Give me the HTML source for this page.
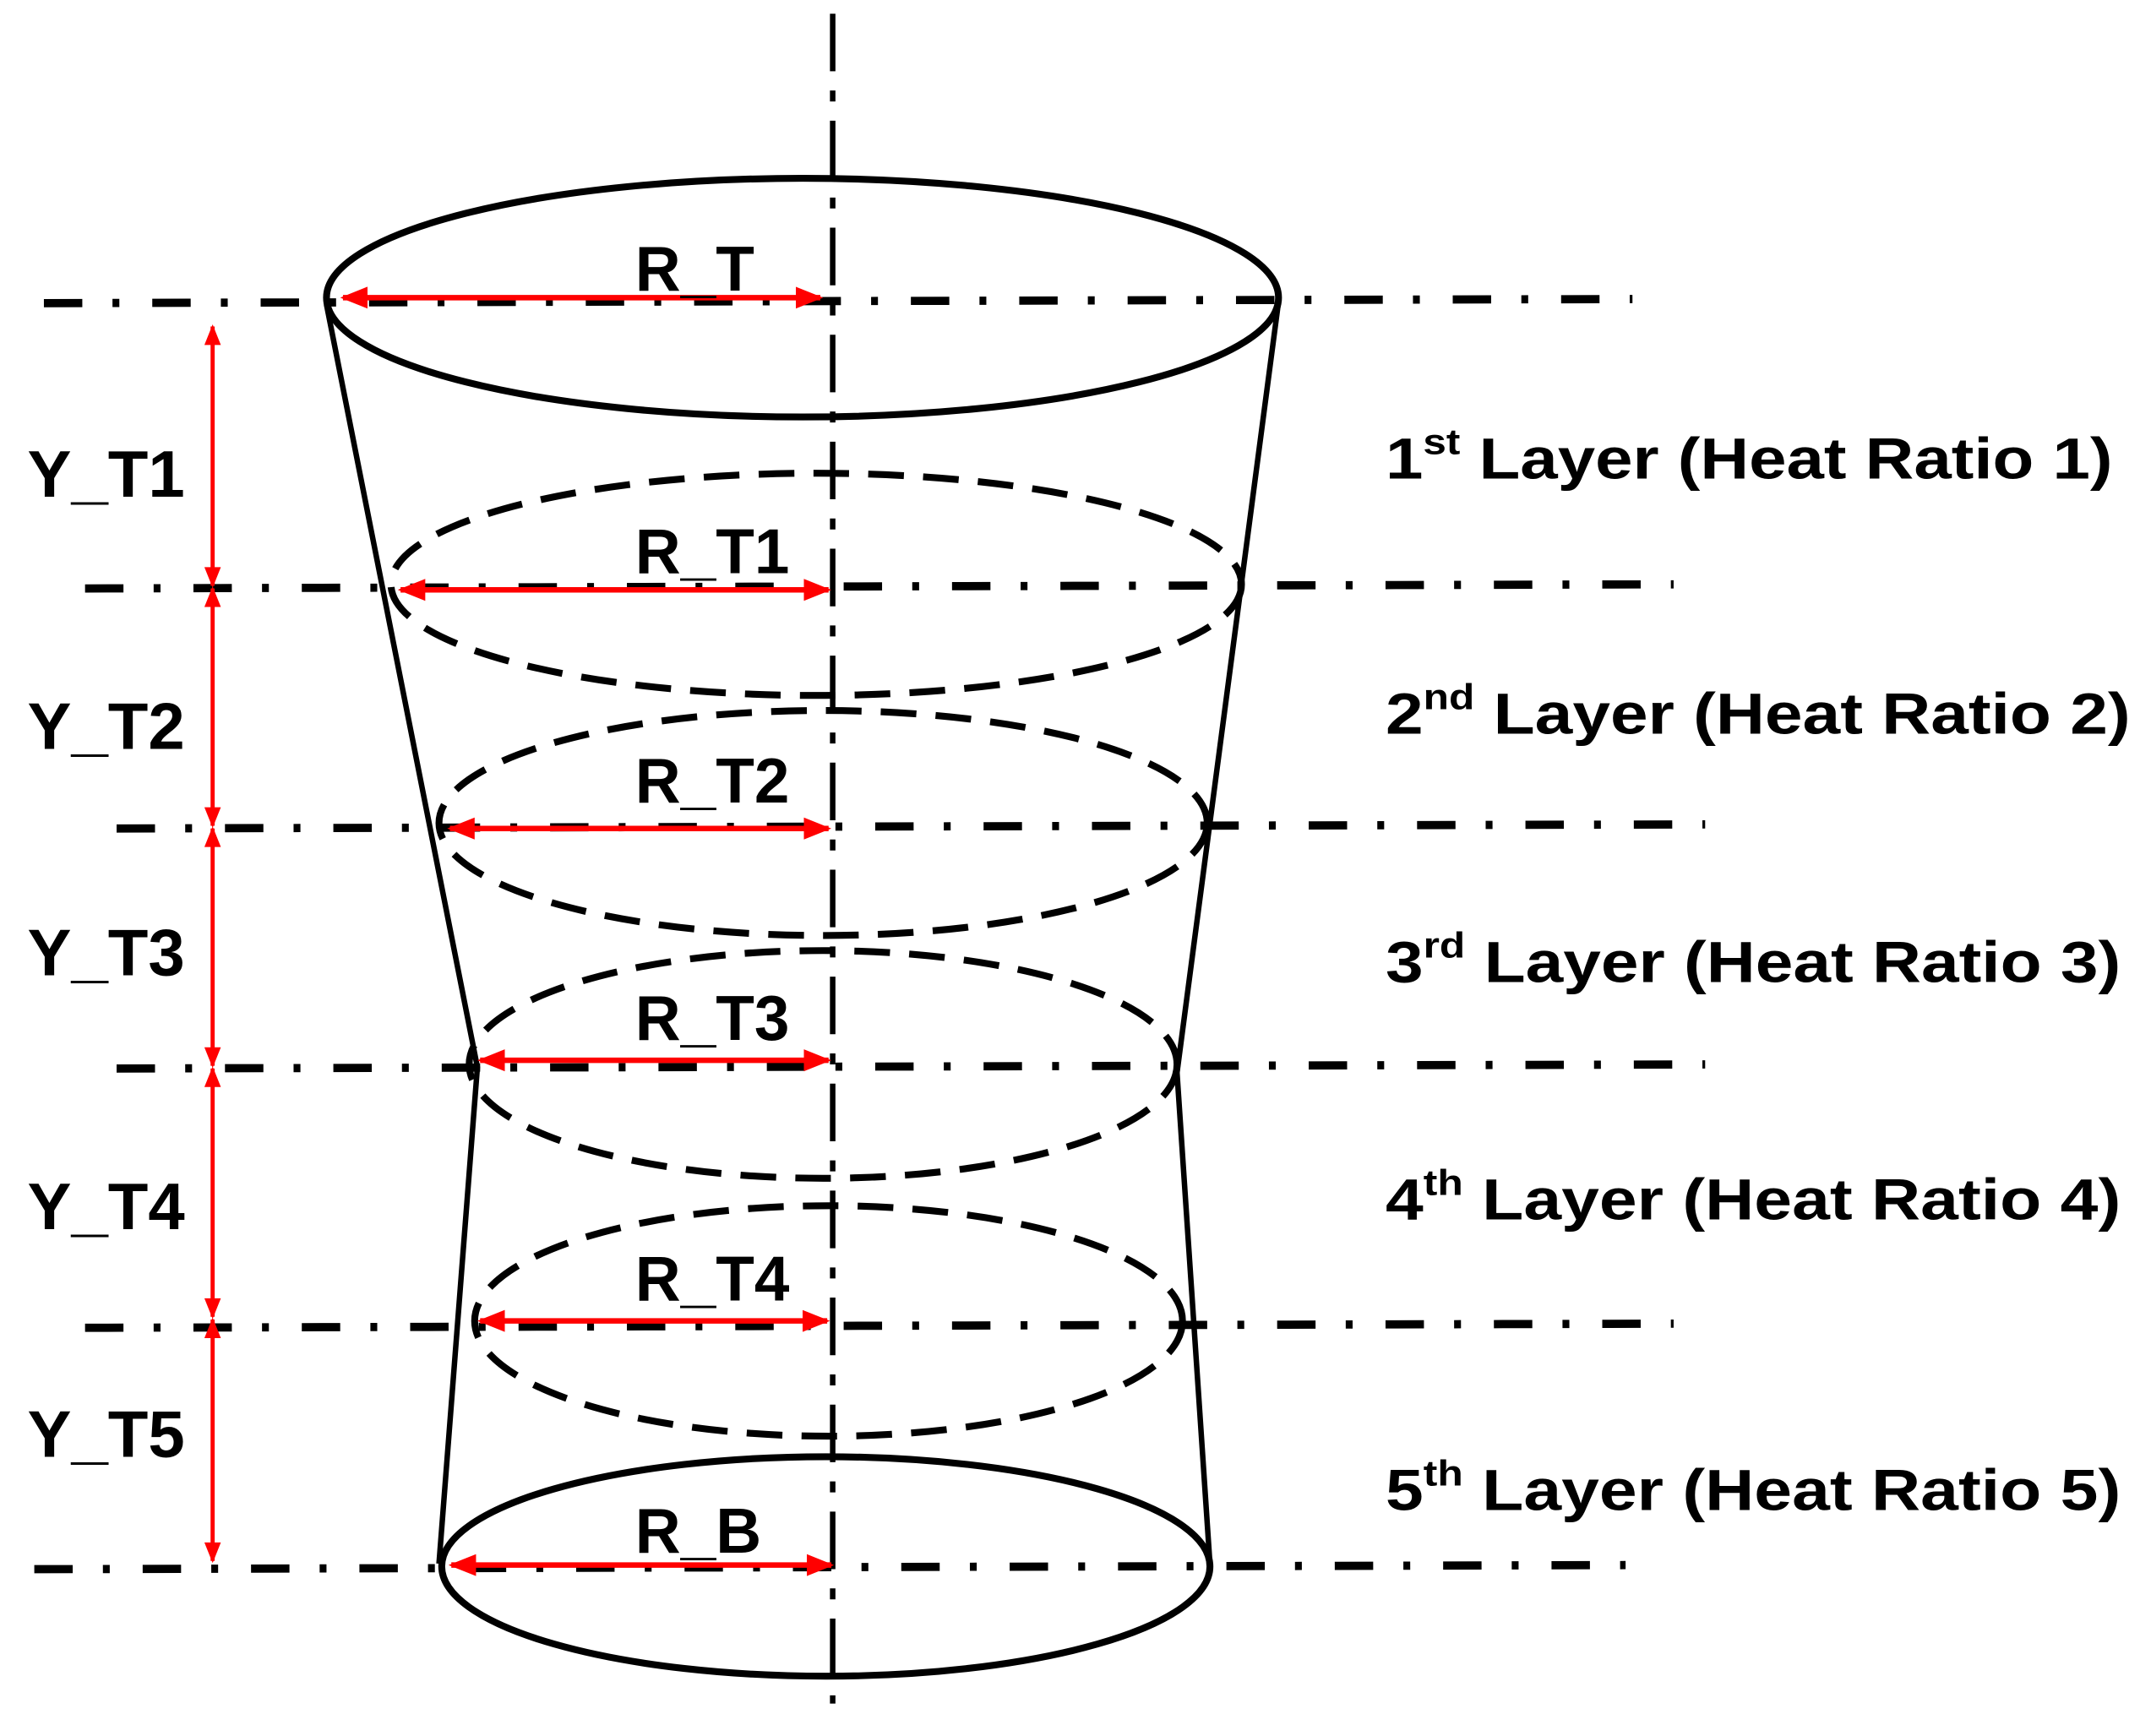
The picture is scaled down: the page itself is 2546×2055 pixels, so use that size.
<!DOCTYPE html>
<html><head><meta charset="utf-8"><style>
html,body{margin:0;padding:0;background:#fff;}
svg{display:block;}
text{font-family:"Liberation Sans",sans-serif;font-weight:bold;fill:#000;}
</style></head><body>
<svg width="2546" height="2055" viewBox="0 0 1568 1265.6" preserveAspectRatio="none" xmlns="http://www.w3.org/2000/svg">
<defs>
<marker id="ah" viewBox="0 0 10 10" refX="9" refY="5" markerWidth="5" markerHeight="5" orient="auto-start-reverse" markerUnits="strokeWidth">
<path d="M0,1 L10,5 L0,9 z" fill="#ff0000"/>
</marker>
<marker id="ah2" viewBox="0 0 10 10" refX="9" refY="5" markerWidth="7" markerHeight="5" orient="auto-start-reverse" markerUnits="strokeWidth">
<path d="M0,1 L10,5 L0,9 z" fill="#ff0000"/>
</marker>
</defs>
<line x1="607" y1="10" x2="607" y2="1242" stroke="#000" stroke-width="4" stroke-dasharray="42 14 8 14"/>
<g stroke="#000" stroke-width="6" stroke-dasharray="28 22 5 24">
<line x1="32" y1="221" x2="1190" y2="218"/>
<line x1="62" y1="429" x2="1220" y2="426"/>
<line x1="85" y1="604" x2="1243" y2="601"/>
<line x1="85" y1="779" x2="1243" y2="776"/>
<line x1="62" y1="968" x2="1220" y2="965"/>
<line x1="25" y1="1144" x2="1185" y2="1141"/>
</g>
<g fill="none" stroke="#000" stroke-width="5">
<ellipse cx="585" cy="217" rx="347" ry="87"/>
<ellipse cx="602" cy="1142" rx="280" ry="80"/>
</g>
<g fill="none" stroke="#000" stroke-width="4">
<polyline points="238,222 348,778 320,1140"/>
<polyline points="932,220 858,782 882,1140"/>
</g>
<g fill="none" stroke="#000" stroke-width="5" stroke-dasharray="26 14">
<ellipse cx="595" cy="426" rx="310" ry="81"/>
<ellipse cx="600" cy="600" rx="280" ry="82"/>
<ellipse cx="600" cy="776" rx="258" ry="83"/>
<ellipse cx="604" cy="963" rx="258" ry="84"/>
</g>
<g stroke="#ff0000" stroke-width="4" marker-start="url(#ah)" marker-end="url(#ah)">
<line x1="250" y1="217" x2="598" y2="217"/>
<line x1="292" y1="430" x2="604" y2="430"/>
<line x1="328" y1="604" x2="604" y2="604"/>
<line x1="350" y1="773" x2="604" y2="773"/>
<line x1="350" y1="963" x2="603" y2="963"/>
<line x1="329" y1="1141" x2="606" y2="1141"/>
</g>
<g stroke="#ff0000" stroke-width="3" marker-start="url(#ah2)" marker-end="url(#ah2)">
<line x1="155" y1="238" x2="155" y2="427"/>
<line x1="155" y1="429" x2="155" y2="602"/>
<line x1="155" y1="604" x2="155" y2="777"/>
<line x1="155" y1="779" x2="155" y2="960"/>
<line x1="155" y1="962" x2="155" y2="1138"/>
</g>
<g font-size="46">
<text x="463" y="212">R_T</text>
<text x="463" y="418">R_T1</text>
<text x="463" y="585">R_T2</text>
<text x="463" y="758">R_T3</text>
<text x="463" y="948">R_T4</text>
<text x="463" y="1132">R_B</text>
</g>
<g font-size="48">
<text x="20" y="362">Y_T1</text>
<text x="20" y="546">Y_T2</text>
<text x="20" y="711">Y_T3</text>
<text x="20" y="896">Y_T4</text>
<text x="20" y="1062">Y_T5</text>
</g>
<g font-size="42">
<text x="1010" y="349" textLength="530" lengthAdjust="spacingAndGlyphs">1<tspan font-size="26" dy="-18">st</tspan><tspan dy="18"> Layer (Heat Ratio 1)</tspan></text>
<text x="1010" y="535" textLength="543" lengthAdjust="spacingAndGlyphs">2<tspan font-size="26" dy="-18">nd</tspan><tspan dy="18"> Layer (Heat Ratio 2)</tspan></text>
<text x="1010" y="716" textLength="536" lengthAdjust="spacingAndGlyphs">3<tspan font-size="26" dy="-18">rd</tspan><tspan dy="18"> Layer (Heat Ratio 3)</tspan></text>
<text x="1010" y="889" textLength="536" lengthAdjust="spacingAndGlyphs">4<tspan font-size="26" dy="-18">th</tspan><tspan dy="18"> Layer (Heat Ratio 4)</tspan></text>
<text x="1010" y="1101" textLength="536" lengthAdjust="spacingAndGlyphs">5<tspan font-size="26" dy="-18">th</tspan><tspan dy="18"> Layer (Heat Ratio 5)</tspan></text>
</g>
</svg>
</body></html>
